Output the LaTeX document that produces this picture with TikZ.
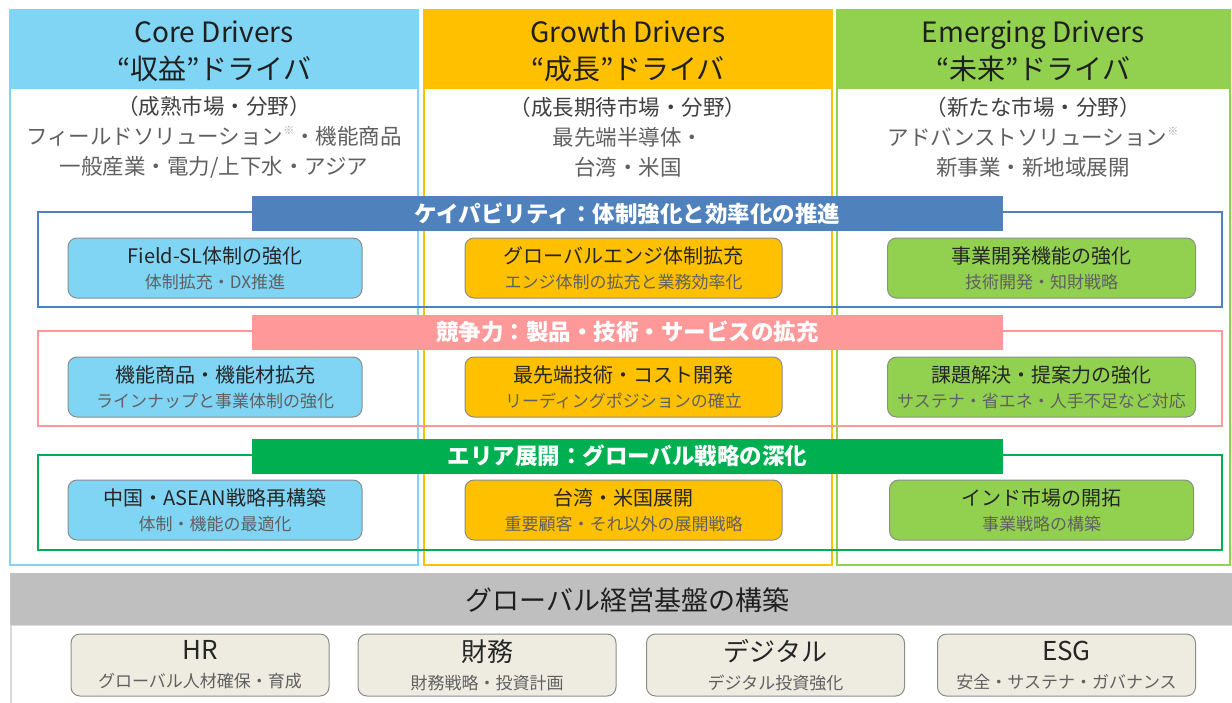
\documentclass[tikz,border=0pt]{standalone}
\usepackage{fontspec}
\setmainfont{Noto Sans CJK JP}
\usepackage{xcolor}
\usetikzlibrary{positioning}
\definecolor{coreblue}{RGB}{128,212,244}
\definecolor{growthorange}{RGB}{255,192,0}
\definecolor{emerggreen}{RGB}{146,208,80}
\definecolor{capblue}{RGB}{79,129,189}
\definecolor{comppink}{RGB}{255,153,153}
\definecolor{areagreen}{RGB}{0,176,80}
\definecolor{basegray}{RGB}{191,191,191}
\definecolor{basefill}{RGB}{238,236,225}
\definecolor{subgray}{RGB}{96,96,96}
\newcommand{\drvlabel}[2]{{\fontsize{20}{25}\selectfont\color{black!85}#1}\\#2}
\newcommand{\baselabel}[2]{{\fontsize{26}{28}\selectfont\color{black!85}#1}\\#2}
\newcommand{\kome}{\raisebox{0.45em}{\fontsize{11}{11}\selectfont\color{black!35}※}}
\tikzset{
  colframe/.style={draw=#1,line width=2.5pt,fill=white},
  colhead/.style={draw=#1,line width=2.5pt,fill=#1},
  headtext/.style={align=center,font=\fontsize{28}{37}\selectfont,text=black!88},
  bodytext/.style={align=center,font=\fontsize{21.5}{30}\selectfont,text=subgray},
  bandframe/.style={draw=#1,line width=2.2pt},
  bandbar/.style={fill=#1,text=white,font=\bfseries\fontsize{22.5}{25}\selectfont,minimum width=751pt,minimum height=35pt,inner sep=0pt},
  drvbox/.style={draw=black!45,fill=#1,line width=1pt,rounded corners=9pt,minimum height=60pt,align=center,inner sep=0pt,font=\fontsize{17}{25}\selectfont,text=subgray},
  basebox/.style={draw=black!45,fill=basefill,line width=1pt,rounded corners=9pt,minimum width=258pt,minimum height=62pt,align=center,inner sep=0pt,font=\fontsize{17}{28}\selectfont,text=subgray}
}
\begin{document}
\begin{tikzpicture}[x=1pt,y=-1pt]
\useasboundingbox (0,0) rectangle (1232,702);
% driver columns
\draw[colframe=coreblue] (10,10) rectangle (418,565);
\draw[colhead=coreblue] (10,10) rectangle (418,88);
\draw[colframe=growthorange] (424,10) rectangle (832,565);
\draw[colhead=growthorange] (424,10) rectangle (832,88);
\draw[colframe=emerggreen] (837,10) rectangle (1230,565);
\draw[colhead=emerggreen] (837,10) rectangle (1230,88);
\node[headtext] (corehead) at (214,51) {Core Drivers\\“収益”ドライバ};
\node[headtext] (growthhead) at (628,51) {Growth Drivers\\“成長”ドライバ};
\node[headtext] (emerghead) at (1033,51) {Emerging Drivers\\“未来”ドライバ};
\node[bodytext] (corebody) at (214,137) {{\color{black!75}（成熟市場・分野）}\\フィールドソリューション\kome・機能商品\\一般産業・電力/上下水・アジア};
\node[bodytext] (growthbody) at (628,137) {{\color{black!75}（成長期待市場・分野）}\\最先端半導体・\\台湾・米国};
\node[bodytext] (emergbody) at (1033,137) {{\color{black!75}（新たな市場・分野）}\\アドバンストソリューション\kome\\新事業・新地域展開};
% bands
\draw[bandframe=capblue] (38,212) rectangle (1222,307);
\node[bandbar=capblue] (capbar) at (627.5,213.5) {ケイパビリティ：体制強化と効率化の推進};
\draw[bandframe=comppink] (38,331) rectangle (1222,426);
\node[bandbar=comppink] (compbar) at (627.5,332) {競争力：製品・技術・サービスの拡充};
\draw[bandframe=areagreen] (38,455) rectangle (1222,550);
\node[bandbar=areagreen] (areabar) at (627.5,456) {エリア展開：グローバル戦略の深化};
% boxes
\node[drvbox=coreblue,minimum width=294pt] (capcore) at (215,268) {\drvlabel{Field-SL体制の強化}{体制拡充・DX推進}};
\node[drvbox=growthorange,minimum width=317pt] (capgrowth) at (623.5,268) {\drvlabel{グローバルエンジ体制拡充}{エンジ体制の拡充と業務効率化}};
\node[drvbox=emerggreen,minimum width=308pt] (capemerg) at (1041.5,268) {\drvlabel{事業開発機能の強化}{技術開発・知財戦略}};
\node[drvbox=coreblue,minimum width=294pt] (compcore) at (215,387) {\drvlabel{機能商品・機能材拡充}{ラインナップと事業体制の強化}};
\node[drvbox=growthorange,minimum width=317pt] (compgrowth) at (623.5,387) {\drvlabel{最先端技術・コスト開発}{リーディングポジションの確立}};
\node[drvbox=emerggreen,minimum width=308pt] (compemerg) at (1041.5,387) {\drvlabel{課題解決・提案力の強化}{サステナ・省エネ・人手不足など対応}};
\node[drvbox=coreblue,minimum width=294pt] (areacore) at (215,510) {\drvlabel{中国・ASEAN戦略再構築}{体制・機能の最適化}};
\node[drvbox=growthorange,minimum width=317pt] (areagrowth) at (623.5,510) {\drvlabel{台湾・米国展開}{重要顧客・それ以外の展開戦略}};
\node[drvbox=emerggreen,minimum width=304pt] (areaemerg) at (1041.5,510) {\drvlabel{インド市場の開拓}{事業戦略の構築}};
% management base
\draw[draw=black!15,line width=2pt,fill=white] (11,625) rectangle (1240,712);
\fill[basegray] (10,573) rectangle (1232,625);
\node[font=\fontsize{27}{30}\selectfont,text=black!88] (basehead) at (627.5,600) {グローバル経営基盤の構築};
\foreach \nm/\cx/\ttl/\sub in {hr/200/HR/グローバル人材確保・育成, fin/487/財務/財務戦略・投資計画, dig/775.5/デジタル/デジタル投資強化, esg/1066.5/ESG/安全・サステナ・ガバナンス}
  \node[basebox] (\nm) at (\cx,665) {\baselabel{\ttl}{\sub}};
\end{tikzpicture}
\end{document}
